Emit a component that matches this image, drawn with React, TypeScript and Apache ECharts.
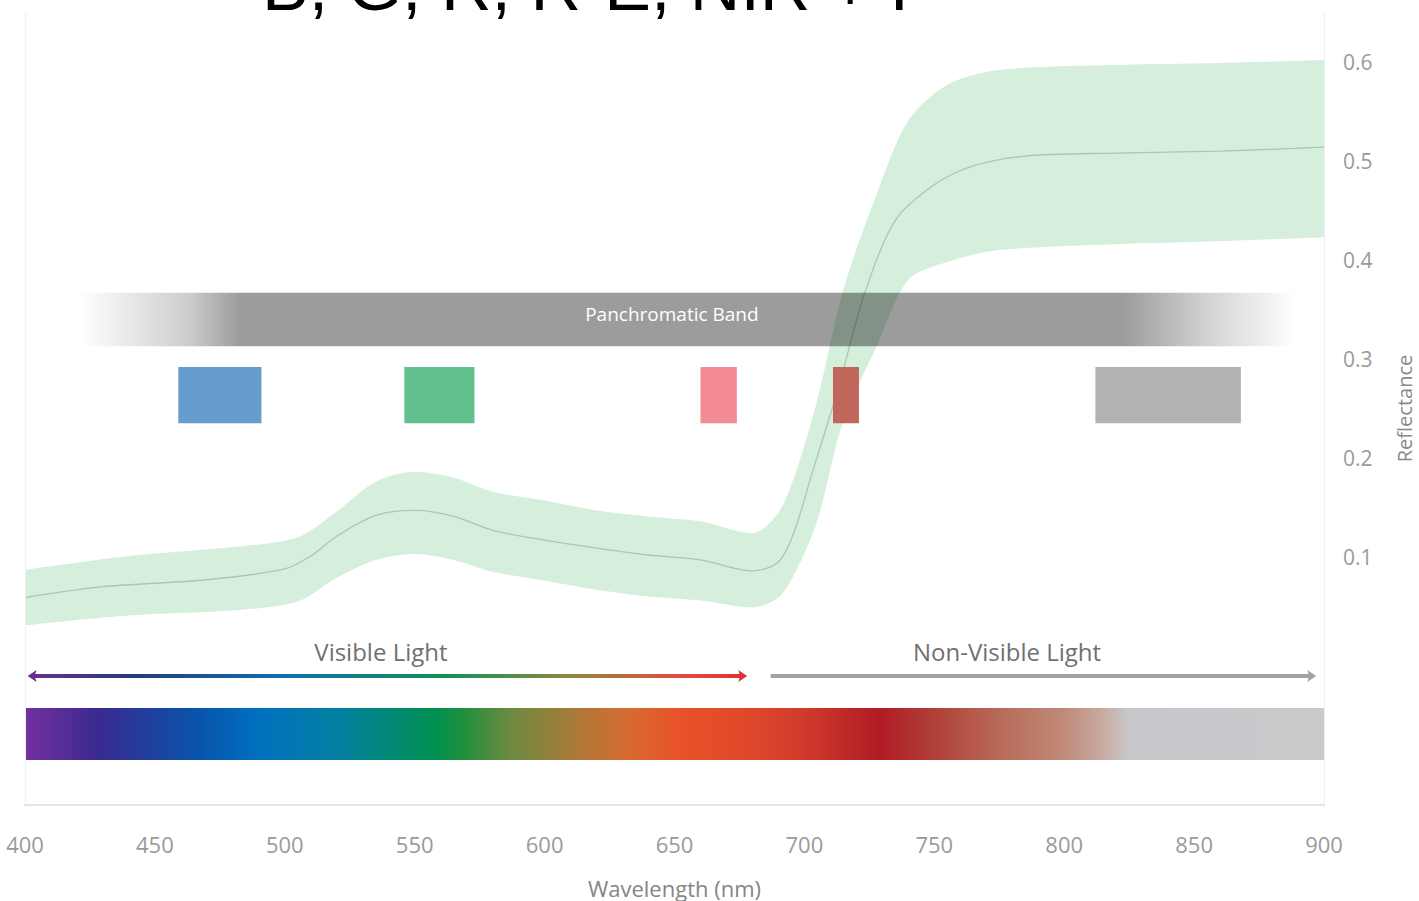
import React, { useEffect, useRef } from "react";
import * as echarts from "echarts";

const titleText = "B, G, R, R-E, NIR + P";
const xMin = 400;
const xMax = 900;
const xTickStep = 50;
const yTickLabels = [0.1, 0.2, 0.3, 0.4, 0.5, 0.6];

const meanWavelengths = [400, 430, 470, 500, 510, 520, 535, 550, 565, 580, 600, 620, 640, 660, 680, 690, 696, 703, 713, 723, 735, 750, 765, 785, 820, 860, 900];
const meanReflectance = [0.059, 0.07, 0.077, 0.088, 0.101, 0.121, 0.142, 0.147, 0.141, 0.127, 0.117, 0.109, 0.102, 0.097, 0.086, 0.095, 0.125, 0.185, 0.27, 0.365, 0.44, 0.476, 0.495, 0.505, 0.508, 0.51, 0.514];

const bandWavelengths = [400, 440, 480, 505, 520, 535, 550, 565, 580, 600, 620, 640, 660, 680, 690, 697, 705, 715, 728, 740, 755, 775, 820, 860, 900];
const bandUpper = [0.087, 0.101, 0.11, 0.12, 0.146, 0.176, 0.186, 0.18, 0.166, 0.157, 0.147, 0.141, 0.136, 0.124, 0.145, 0.188, 0.259, 0.37, 0.468, 0.541, 0.577, 0.592, 0.597, 0.599, 0.602];
const bandLower = [0.031, 0.041, 0.046, 0.055, 0.079, 0.097, 0.103, 0.097, 0.085, 0.076, 0.067, 0.06, 0.056, 0.049, 0.059, 0.087, 0.137, 0.238, 0.314, 0.38, 0.398, 0.41, 0.416, 0.419, 0.423];

const sensorBandNames = ["Blue", "Green", "Red", "Red Edge", "NIR"];
const sensorBandStart = [459, 546, 660, 711, 812];
const sensorBandEnd = [491, 573, 674, 721, 868];
const sensorBandColors = ["#679dcd", "#62c08e", "#f28b93", "#c0665a", "#b3b3b3"];

const panLabel = "Panchromatic Band";
const panStart = 421;
const panEnd = 889;

const spectrumNm = [400, 428, 465, 489, 521, 558, 569, 586, 614, 633, 652, 676, 700, 729, 750, 775, 800, 817, 825, 900];
const spectrumColors = ["#7330a0", "#3a2a90", "#0a52aa", "#0070c0", "#0380a0", "#009050", "#20903c", "#6a8a40", "#b07838", "#d86a30", "#e85228", "#e04a2a", "#d03a2c", "#b01c24", "#b04038", "#b86a58", "#c08a78", "#c8b0a8", "#c8c8cc", "#cacacd"];

const visibleLabel = "Visible Light";
const visibleStart = 401;
const visibleEnd = 678;
const visibleLabelAt = 537;
const visibleArrowNm = [401, 440, 500, 560, 610, 650, 678];
const visibleArrowColors = ["#6a3088", "#243c80", "#1070b0", "#10905a", "#8a8a40", "#e05040", "#e23038"];

const nonVisibleLabel = "Non-Visible Light";
const nonVisibleStart = 687;
const nonVisibleEnd = 897;
const nonVisibleLabelAt = 778;

const FONT = "'Open Sans', Lato, sans-serif";

export default function App() {
  const ref = useRef<HTMLDivElement>(null);

  useEffect(() => {
    if (!ref.current) return;
    const chart = echarts.init(ref.current, undefined, { renderer: "svg" });

    const upperData = bandWavelengths.map((w, i) => [w, bandUpper[i]]);
    const lowerData = bandWavelengths.map((w, i) => [w, bandLower[i]]);
    const meanData = meanWavelengths.map((w, i) => [w, meanReflectance[i]]);

    const panRender = (params: any, api: any) => {
      const p0 = api.coord([api.value(0), 0.367]);
      const p1 = api.coord([api.value(1), 0.313]);
      const w = p1[0] - p0[0];
      const grad = new echarts.graphic.LinearGradient(0, 0, 1, 0, [
        { offset: 0, color: "rgba(0,0,0,0)" },
        { offset: 0.055, color: "rgba(0,0,0,0.12)" },
        { offset: 0.09, color: "rgba(0,0,0,0.2)" },
        { offset: 0.132, color: "rgba(0,0,0,0.39)" },
        { offset: 0.858, color: "rgba(0,0,0,0.39)" },
        { offset: 0.926, color: "rgba(0,0,0,0.18)" },
        { offset: 1, color: "rgba(0,0,0,0)" },
      ]);
      const tc = api.coord([649, 0.345]);
      return {
        type: "group",
        children: [
          { type: "rect", shape: { x: p0[0], y: p0[1], width: w, height: p1[1] - p0[1] }, style: { fill: grad } },
          {
            type: "text",
            x: tc[0],
            y: tc[1],
            style: { text: panLabel, fill: "#ffffff", font: `19px ${FONT}`, align: "center", verticalAlign: "middle" },
          },
        ],
      };
    };

    const bandRender = (params: any, api: any) => {
      const p0 = api.coord([api.value(0), 0.292]);
      const p1 = api.coord([api.value(1), 0.235]);
      return {
        type: "rect",
        shape: { x: p0[0], y: p0[1], width: p1[0] - p0[0], height: p1[1] - p0[1] },
        style: { fill: sensorBandColors[params.dataIndex] },
      };
    };

    const spectrumRender = (params: any, api: any) => {
      const a = api.value(0);
      const b = api.value(1);
      const p0 = api.coord([a, -0.0525]);
      const p1 = api.coord([b, -0.105]);
      const grad = new echarts.graphic.LinearGradient(
        0, 0, 1, 0,
        spectrumNm.map((nm, i) => ({ offset: (nm - a) / (b - a), color: spectrumColors[i] }))
      );
      return {
        type: "rect",
        shape: { x: p0[0], y: p0[1], width: p1[0] - p0[0], height: p1[1] - p0[1] },
        style: { fill: grad },
      };
    };

    const arrowRender = (params: any, api: any) => {
      const a = api.value(0);
      const b = api.value(1);
      const p0 = api.coord([a, -0.0202]);
      const p1 = api.coord([b, -0.0202]);
      const y = p0[1];
      const children: any[] = [];
      if (params.dataIndex === 0) {
        const grad = new echarts.graphic.LinearGradient(
          0, 0, 1, 0,
          visibleArrowNm.map((nm, i) => ({ offset: (nm - a) / (b - a), color: visibleArrowColors[i] }))
        );
        children.push({ type: "rect", shape: { x: p0[0] + 4, y: y - 2, width: p1[0] - p0[0] - 8, height: 4 }, style: { fill: grad } });
        children.push({ type: "polygon", shape: { points: [[p0[0], y], [p0[0] + 9, y - 6], [p0[0] + 7, y], [p0[0] + 9, y + 6]] }, style: { fill: visibleArrowColors[0] } });
        const last = visibleArrowColors[visibleArrowColors.length - 1];
        children.push({ type: "polygon", shape: { points: [[p1[0], y], [p1[0] - 9, y - 6], [p1[0] - 7, y], [p1[0] - 9, y + 6]] }, style: { fill: last } });
        const lc = api.coord([visibleLabelAt, 0.005]);
        children.push({ type: "text", x: lc[0], y: lc[1], style: { text: visibleLabel, fill: "#707070", font: `24px ${FONT}`, align: "center", verticalAlign: "middle" } });
      } else {
        children.push({ type: "rect", shape: { x: p0[0], y: y - 2, width: p1[0] - p0[0] - 6, height: 4 }, style: { fill: "#a3a3a3" } });
        children.push({ type: "polygon", shape: { points: [[p1[0], y], [p1[0] - 9, y - 6], [p1[0] - 7, y], [p1[0] - 9, y + 6]] }, style: { fill: "#a3a3a3" } });
        const lc = api.coord([nonVisibleLabelAt, 0.005]);
        children.push({ type: "text", x: lc[0], y: lc[1], style: { text: nonVisibleLabel, fill: "#707070", font: `24px ${FONT}`, align: "center", verticalAlign: "middle" } });
      }
      return { type: "group", children };
    };

    const option: any = {
      animation: false,
      backgroundColor: "#ffffff",
      textStyle: { fontFamily: FONT },
      grid: { left: 25, right: 95, top: 12.5, bottom: 96.5, containLabel: false, outerBoundsMode: "none" },
      graphic: [
        {
          type: "text",
          x: 262,
          y: -14,
          z: 100,
          style: { text: titleText, fill: "#000000", font: `70px 'Liberation Sans', sans-serif`, align: "left", verticalAlign: "middle" },
        },
      ],
      xAxis: {
        type: "value",
        min: xMin,
        max: xMax,
        interval: xTickStep,
        z: 10,
        name: "Wavelength (nm)",
        nameLocation: "middle",
        nameGap: 71,
        nameTextStyle: { color: "#858585", fontSize: 22, lineHeight: 24, fontFamily: FONT },
        axisLine: { show: true, onZero: false, lineStyle: { color: "#e4e4e4", width: 2 } },
        axisTick: { show: false },
        splitLine: { show: false },
        axisLabel: { color: "#9a9a9a", fontSize: 22, margin: 28, fontFamily: FONT },
      },
      yAxis: [
        {
          type: "value",
          position: "right",
          min: -0.15,
          max: 0.65,
          interval: 0.05,
          z: 10,
          name: "Reflectance",
          nameLocation: "middle",
          nameRotate: 90,
          nameGap: 70,
          nameTextStyle: { color: "#8a8a8a", fontSize: 20, fontFamily: FONT },
          axisLine: { show: true, onZero: false, lineStyle: { color: "#eeeeee", width: 1 } },
          axisTick: { show: false },
          splitLine: { show: false },
          axisLabel: {
            color: "#9a9a9a",
            fontSize: 21,
            margin: 19,
            fontFamily: FONT,
            formatter: (v: number) => {
              const r = Math.round(v * 100) / 100;
              return yTickLabels.some((t) => Math.abs(t - r) < 1e-6) ? r.toFixed(1) : "";
            },
          },
        },
        {
          type: "value",
          position: "left",
          min: -0.15,
          max: 0.65,
          interval: 0.05,
          z: 10,
          axisLine: { show: true, onZero: false, lineStyle: { color: "#f0f0f0", width: 1 } },
          axisTick: { show: false },
          splitLine: { show: false },
          axisLabel: { show: false },
        },
      ],
      series: [
        {
          type: "line",
          name: "upper",
          data: upperData,
          smooth: 0.3,
          symbol: "none",
          lineStyle: { opacity: 0 },
          areaStyle: { color: "rgba(140,210,160,0.36)", opacity: 1, origin: "start" },
          z: 1,
          silent: true,
        },
        {
          type: "line",
          name: "lower",
          data: lowerData,
          smooth: 0.3,
          symbol: "none",
          lineStyle: { opacity: 0 },
          areaStyle: { color: "#ffffff", opacity: 1, origin: "start" },
          z: 1,
          silent: true,
        },
        {
          type: "line",
          name: "mean",
          data: meanData,
          smooth: 0.3,
          symbol: "none",
          lineStyle: { color: "#a6c9b0", width: 1.3 },
          z: 2,
          silent: true,
        },
        {
          type: "custom",
          name: "pan",
          renderItem: panRender,
          data: [[panStart, panEnd]],
          z: 3,
          silent: true,
        },
        {
          type: "custom",
          name: "bands",
          renderItem: bandRender,
          data: sensorBandStart.map((s, i) => ({ name: sensorBandNames[i], value: [s, sensorBandEnd[i]] })),
          z: 4,
          silent: true,
        },
        {
          type: "custom",
          name: "spectrum",
          renderItem: spectrumRender,
          data: [[xMin, xMax]],
          z: 3,
          silent: true,
        },
        {
          type: "custom",
          name: "arrows",
          renderItem: arrowRender,
          data: [
            [visibleStart, visibleEnd],
            [nonVisibleStart, nonVisibleEnd],
          ],
          z: 3,
          silent: true,
        },
      ],
    };

    chart.setOption(option);
    return () => chart.dispose();
  }, []);

  return (
    <div
      ref={ref}
      style={{ position: "absolute", left: 0, top: 0, width: 1419, height: 901, background: "#fff" }}
    />
  );
}
